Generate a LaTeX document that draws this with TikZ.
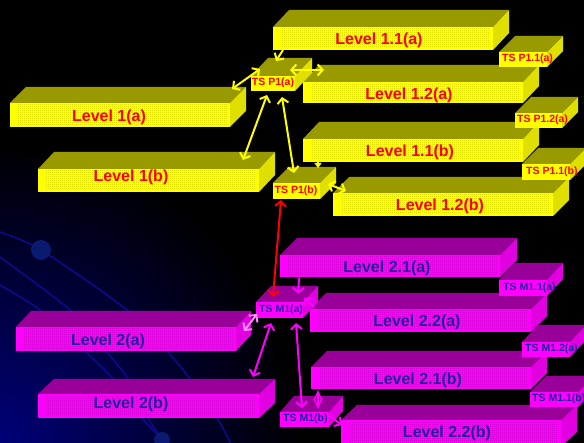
\documentclass[tikz,border=0pt]{standalone}
\usepackage{fontspec}
\setmainfont{Liberation Sans}
\usetikzlibrary{arrows.meta,calc,patterns}

% face colours
\definecolor{yfront}{HTML}{FFFF00}
\definecolor{ytop}{HTML}{999900}
\definecolor{yside}{HTML}{E0E000}
\definecolor{ydots}{HTML}{CFCF00}
\definecolor{mfront}{HTML}{FF00FF}
\definecolor{mtop}{HTML}{990099}
\definecolor{mside}{HTML}{E000E0}
\definecolor{mdots}{HTML}{C800C8}
\definecolor{ylabel}{HTML}{FF0000}
\definecolor{mlabel}{HTML}{2020A0}
\definecolor{orbit}{HTML}{0C0C90}
\definecolor{orbitdot}{HTML}{0A1A70}
\definecolor{glow}{HTML}{000078}

% fine dot texture for the long bars
\pgfdeclarepatternformonly{finedots}{\pgfqpoint{-0.5pt}{-0.5pt}}{\pgfqpoint{0.5pt}{0.5pt}}{\pgfqpoint{2pt}{2pt}}{%
  \pgfpathrectangle{\pgfqpoint{-0.5pt}{-0.5pt}}{\pgfqpoint{1pt}{1pt}}\pgfusepath{fill}}

\tikzset{
  facetop/.style={fill=ptop},
  faceside/.style={fill=pside},
  facefront/.style={fill=pfront, draw=none, inner sep=0pt, outer sep=0pt, rectangle},
  facedots/.style={pattern=finedots, pattern color=pdots},
  lvl/.style={font=\bfseries\fontsize{16}{18}\selectfont, inner sep=0pt},
  tslbl/.style={font=\bfseries\fontsize{10.5}{12}\selectfont, inner sep=0pt},
  >={Straight Barb[length=5pt,width=11pt]},
  yarrow/.style={draw=yfront, line width=2pt},
  rarrow/.style={draw=red, line width=2pt},
  marrow/.style={draw=mfront, line width=2pt},
}

% block: name, x1, y1, x2, y2 (front face), depth dx, dy
\newcommand\prism[7]{%
  \fill[facetop] (#2,#3) -- (#2+#6,#3-#7) -- (#4+#6,#3-#7) -- (#4,#3) -- cycle;
  \fill[faceside] (#4,#3) -- (#4+#6,#3-#7) -- (#4+#6,#5-#7) -- (#4,#5) -- cycle;
  \node[facefront, minimum width={#4-#2}, minimum height={#5-#3}] (#1) at ({(#2+#4)/2},{(#3+#5)/2}) {};
}
\newcommand\dotband[1]{%
  \fill[facedots] ($(#1.north west)+(8,2)$) rectangle ($(#1.south east)+(-3,-2)$);
}

\begin{document}
\begin{tikzpicture}[x=1pt,y=-1pt]
\useasboundingbox (0,0) rectangle (584,443);
\clip (0,0) rectangle (584,443);
\fill[black] (0,0) rectangle (584,443);

% blue glow in the lower left corner
\shade[inner color=glow, outer color=black] (0,443) circle (300);

% orbits
\draw[orbit, line width=1.5pt] plot[smooth] coordinates {(-5,230) (0,232) (41,250) (127,310) (167,351) (190,379) (217,418) (232,446)};
\draw[orbit, line width=1.5pt] plot[smooth] coordinates {(-5,253) (0,257) (70,310) (106,351) (128,379) (148,418) (162,439)};
\draw[orbit, line width=1.5pt] plot[smooth] coordinates {(-5,282) (0,285) (40,310) (85,351) (113,379) (142,418) (162,439)};
\fill[orbitdot] (41,250) circle (10);
\fill[orbitdot] (162,440) circle (8);

% ---------- yellow blocks ----------
\colorlet{pfront}{yfront}\colorlet{ptop}{ytop}\colorlet{pside}{yside}\colorlet{pdots}{ydots}
\prism{L11a}{273}{27}{493}{50}{16}{17}\dotband{L11a}
\prism{L12a}{303}{82}{523}{103}{16}{17}\dotband{L12a}
\prism{L11b}{303}{139}{523}{162}{16}{17}\dotband{L11b}
\prism{L12b}{333}{193}{553}{216}{16}{16}\dotband{L12b}
\prism{L1a}{10}{103}{230}{127}{16}{16}\dotband{L1a}
\prism{L1b}{38}{169}{259}{192}{16}{17}\dotband{L1b}
\prism{TSP11a}{499}{52}{547}{67}{16}{16}
\prism{TSP12a}{515}{113}{562}{128}{16}{16}
\prism{TSP11b}{522}{164}{570}{180}{16}{16}
\prism{TSP1a}{251}{76}{295}{91}{17}{18}
\prism{TSP1b}{273}{183}{320}{199}{16}{16}

% ---------- magenta blocks ----------
\colorlet{pfront}{mfront}\colorlet{ptop}{mtop}\colorlet{pside}{mside}\colorlet{pdots}{mdots}
\prism{L21a}{280}{255}{500}{277}{17}{17}\dotband{L21a}
\prism{L22a}{310}{309}{531}{332}{16}{16}\dotband{L22a}
\prism{L21b}{311}{367}{531}{389}{16}{16}\dotband{L21b}
\prism{L22b}{341}{420}{561}{447}{16}{15}\dotband{L22b}
\prism{L2a}{16}{327}{236}{351}{15}{16}\dotband{L2a}
\prism{L2b}{38}{394}{259}{418}{16}{15}\dotband{L2b}
\prism{TSM11a}{499}{280}{547}{296}{16}{17}
\prism{TSM12a}{522}{342}{570}{357}{16}{17}
\prism{TSM11b}{530}{392}{578}{407}{16}{16}
\prism{TSM1a}{256}{302}{303}{318}{15}{16}
\prism{TSM1b}{280}{412}{329}{427}{14}{16}

% ---------- labels ----------
\node[lvl, text=ylabel] (L11a-t) at (379,40) {Level 1.1(a)};
\node[lvl, text=ylabel] (L12a-t) at (409,95) {Level 1.2(a)};
\node[lvl, text=ylabel] (L11b-t) at (410,152) {Level 1.1(b)};
\node[lvl, text=ylabel] (L12b-t) at (440,206) {Level 1.2(b)};
\node[lvl, text=ylabel] (L1a-t) at (109,117) {Level 1(a)};
\node[lvl, text=ylabel] (L1b-t) at (131,177) {Level 1(b)};
\node[tslbl, text=ylabel] (TSP1a-t) at (273,83) {TS P1(a)};
\node[tslbl, text=ylabel] (TSP1b-t) at (296,191) {TS P1(b)};
\node[tslbl, text=ylabel, anchor=west] (TSP11a-t) at (502,59) {TS P1.1(a)};
\node[tslbl, text=ylabel, anchor=west] (TSP12a-t) at (517,120) {TS P1.2(a)};
\node[tslbl, text=ylabel, anchor=west] (TSP11b-t) at (526,172) {TS P1.1(b)};

\node[lvl, text=mlabel] (L21a-t) at (387,268) {Level 2.1(a)};
\node[lvl, text=mlabel] (L22a-t) at (417,322) {Level 2.2(a)};
\node[lvl, text=mlabel] (L21b-t) at (418,380) {Level 2.1(b)};
\node[lvl, text=mlabel] (L22b-t) at (447,433) {Level 2.2(b)};
\node[lvl, text=mlabel] (L2a-t) at (108,341) {Level 2(a)};
\node[lvl, text=mlabel] (L2b-t) at (131,404) {Level 2(b)};
\node[tslbl, text=mlabel, anchor=west] (TSM1a-t) at (259,310) {TS M1(a)};
\node[tslbl, text=mlabel, anchor=west] (TSM1b-t) at (283,419) {TS M1(b)};
\node[tslbl, text=mlabel, anchor=west] (TSM11a-t) at (503,288) {TS M1.1(a)};
\node[tslbl, text=mlabel, anchor=west] (TSM12a-t) at (525,349) {TS M1.2(a)};
\node[tslbl, text=mlabel, anchor=west] (TSM11b-t) at (532,399) {TS M1.1(b)};

% ---------- yellow links ----------
\draw[yarrow,->] ($(L11a.south west)+(10,0)$) -- ($(TSP1a.north west)+(25,-15)$);
\draw[yarrow,<->] ($(TSP1a.north east)+(-5,-6)$) -- ($(L12a.north west)+(21,-12)$);
\draw[yarrow,<->] ($(TSP1a.north west)+(9,-7)$) -- ($(L1a.north east)+(2,-14)$);
\draw[yarrow,<->] ($(TSP1a.south west)+(16,4)$) -- ($(L1b.north east)+(-16,-9)$);
\draw[yarrow,<->] ($(TSP1a.south east)+(-13,6)$) -- ($(TSP1b.north west)+(21,-10)$);
\draw[yarrow,-{Triangle[length=5pt,width=7pt]}] ($(L11b.south west)+(15,-1)$) -- ($(TSP1b.north east)+(-2,-15)$);
\draw[yarrow,<->] ($(TSP1b.north east)+(8,1)$) -- ($(L12b.north west)+(13,-2)$);

% ---------- link between the two trees ----------
\draw[rarrow,<->] ($(TSP1b.south west)+(8,1)$) -- ($(TSM1a.north west)+(17,-5)$);

% ---------- magenta links ----------
\draw[marrow,->] ($(L21a.south west)+(19,1)$) -- ($(TSM1a.north east)+(-5,-8)$);
\draw[marrow,->] ($(L22a.north west)+(4,-2)$) -- ($(TSM1a.north east)+(1,-4)$);
\draw[marrow,draw=mfront!45!white,<->] ($(TSM1a.west)+(1,4)$) -- ($(L2a.north east)+(8,4)$);
\draw[marrow,<->] ($(TSM1a.south west)+(15,5)$) -- ($(L2b.north east)+(-6,-17)$);
\draw[marrow,<->] ($(TSM1a.south east)+(-7,5)$) -- ($(TSM1b.north west)+(22,-4)$);
\draw[marrow,line width=1.2pt,{Straight Barb[length=9pt,width=8pt]}-{Straight Barb[length=9pt,width=8pt]}] ($(L21b.south west)+(7,1)$) -- ($(TSM1b.north west)+(38,-3)$);
\draw[marrow,->] ($(TSM1b.north east)+(0,4)$) -- ($(L22b.north west)+(1,5)$);
\end{tikzpicture}
\end{document}
